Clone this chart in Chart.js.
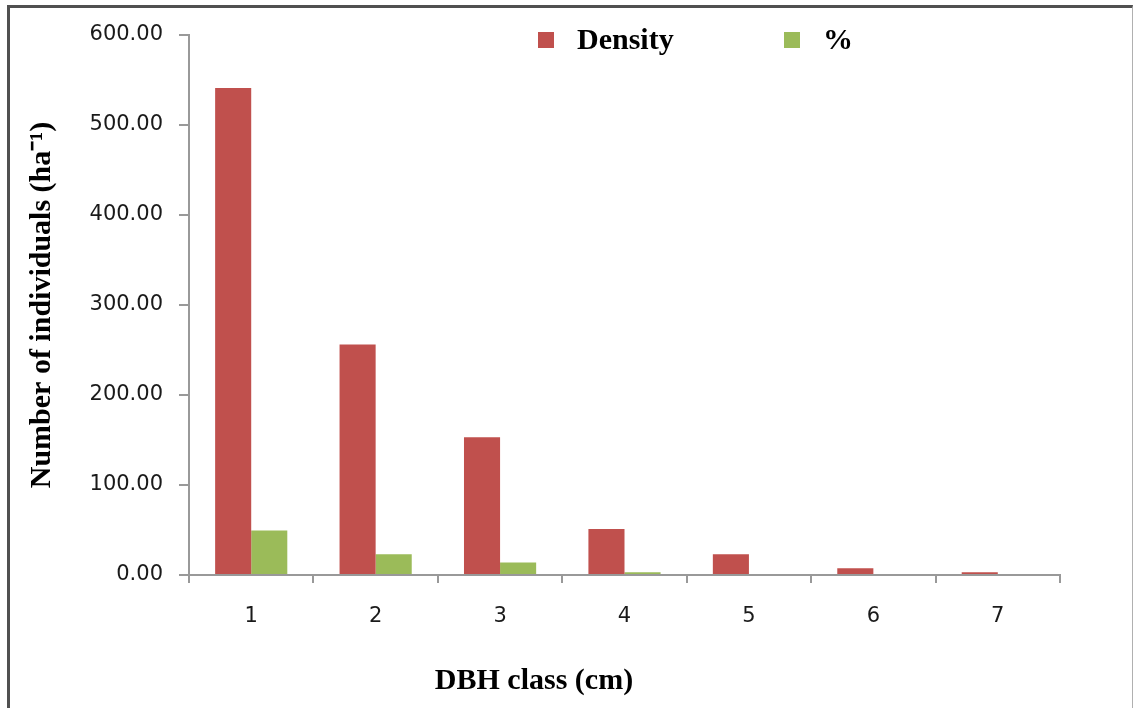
<!DOCTYPE html>
<html>
<head>
<meta charset="utf-8">
<script src="https://cdn.jsdelivr.net/npm/chart.js@4/dist/chart.umd.min.js"></script>
<style>
    html, body { margin: 0; padding: 0; background: #fff; overflow: hidden; }
    #frame {
        position: absolute; left: 7px; top: 5px; width: 1122px; height: 720px;
        border-top: 3px solid #505050; border-left: 3px solid #505050; border-right: 1px solid #b0b0b0;
    }
    #chart { position: absolute; left: 0; top: 0; }
</style>
</head>
<body>
<div id="frame"></div>
<canvas id="chart" width="1133" height="708"></canvas>
<script>
// DBH classes and values
const dbhClasses = ['1', '2', '3', '4', '5', '6', '7'];
const densityValues = [541, 256, 153, 51, 23, 7.4, 3];
const percentValues = [49.5, 23, 14, 3, 0, 0, 0];
const yTicks = [0, 100, 200, 300, 400, 500, 600];
const xTitle = 'DBH class (cm)';
const yTitle = 'Number of individuals (ha⁻¹)';

const serifBold = { family: '"Liberation Serif", "Times New Roman", serif', size: 30, weight: 'bold' };
const serifBoldCss = 'bold 30px "Liberation Serif", "Times New Roman", serif';
const tickFont = { family: '"DejaVu Sans", Verdana, sans-serif', size: 21 };

// legend inside the plot and the x title (which sits left of centre in the original)
const extraText = {
    id: 'extraText',
    afterDraw(chart) {
        const ctx = chart.ctx;
        const starts = [538, 784];
        ctx.save();
        ctx.font = serifBoldCss;
        ctx.textAlign = 'left';
        ctx.textBaseline = 'alphabetic';
        chart.data.datasets.forEach((ds, i) => {
            const x = starts[i];
            ctx.fillStyle = ds.backgroundColor;
            ctx.fillRect(x, 32, 16, 16);
            ctx.fillStyle = '#000';
            ctx.fillText(ds.label, x + 39, 49);
        });
        ctx.textAlign = 'center';
        ctx.fillText(xTitle, 534, 689);
        ctx.restore();
    }
};

new Chart(document.getElementById('chart'), {
    type: 'bar',
    data: {
        labels: dbhClasses,
        datasets: [
            { label: 'Density', data: densityValues, backgroundColor: '#C0504D', borderWidth: 0 },
            { label: '%', data: percentValues, backgroundColor: '#9BBB59', borderWidth: 0 }
        ]
    },
    options: {
        responsive: false,
        animation: false,
        devicePixelRatio: 1,
        layout: { padding: { top: 35, right: 73, bottom: 0, left: 0 } },
        datasets: { bar: { categoryPercentage: 0.58, barPercentage: 1.0 } },
        plugins: {
            legend: { display: false },
            tooltip: { enabled: false }
        },
        scales: {
            x: {
                afterFit: function (scale) { scale.height = 133; },
                grid: { offset: true, drawOnChartArea: false, drawTicks: true, tickLength: 8, color: '#999', lineWidth: 2 },
                border: { display: true, color: '#999', width: 2 },
                ticks: { color: '#1a1a1a', font: tickFont, padding: 21, maxRotation: 0 },
                title: { display: false }
            },
            y: {
                min: 0,
                max: 600,
                afterFit: function (scale) { scale.width = 189; },
                afterBuildTicks: function (scale) { scale.ticks = yTicks.map(v => ({ value: v })); },
                grid: { drawOnChartArea: false, drawTicks: true, tickLength: 10, color: '#999', lineWidth: 2 },
                border: { display: true, color: '#999', width: 2 },
                ticks: {
                    color: '#1a1a1a',
                    font: tickFont,
                    padding: 16,
                    callback: function (value) { return Number(value).toFixed(2); }
                },
                title: { display: true, text: yTitle, color: '#000', font: serifBold, padding: { top: 24, bottom: 0 } }
            }
        }
    },
    plugins: [extraText]
});
</script>
</body>
</html>
